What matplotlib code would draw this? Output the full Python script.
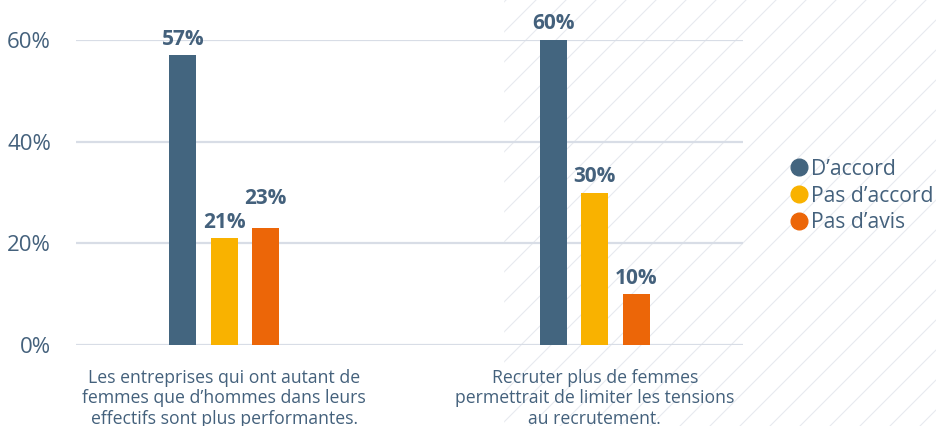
import numpy as np
import matplotlib
matplotlib.use("Agg")
from matplotlib import pyplot as plt
from matplotlib.lines import Line2D

plt.rcParams['font.family'] = ['Open Sans', 'DejaVu Sans']

#chart data
categories = ["Les entreprises qui ont autant de\nfemmes que d\u2019hommes dans leurs\neffectifs sont plus performantes.",
              "Recruter plus de femmes\npermettrait de limiter les tensions\nau recrutement."]
series = ["D\u2019accord", "Pas d\u2019accord", "Pas d\u2019avis"]
d_accord = [57, 60]
pas_d_accord = [21, 30]
pas_d_avis = [23, 10]
yticks = [0, 20, 40, 60]

colors = ['#43657f', '#f9b200', '#ec6608']
text_col = '#44617c'
grid_col = '#d8dde6'

fig = plt.figure(figsize=(9.37, 4.26), dpi=100)

#decorative diagonal hatching in the background (right part)
bg = fig.add_axes([0, 0, 1, 1], zorder=0)
bg.set_xlim(0, 937)
bg.set_ylim(0, 426)
bg.axis('off')
for c in np.arange(-950, 940, 30):
    xs = np.array([0, 937])
    bg.plot(xs, xs + c, color='#e7eaef', lw=0.8, clip_on=True)
bg.fill_between([0, 503], 0, 426, color='white', zorder=2)

ax = fig.add_axes([76/937, 81/426, 667/937, 305/426], zorder=1)
ax.patch.set_alpha(0)

ind = np.arange(len(categories))
width = 0.0726
off = 0.1116
groups = [d_accord, pas_d_accord, pas_d_avis]
for i, vals in enumerate(groups):
    bars = ax.bar(ind + (i - 1) * off, vals, width, color=colors[i], zorder=3)
    for j, (b, v) in enumerate(zip(bars, vals)):
        dy = 4
        #push a label up when it would collide with its left neighbour
        if i > 0 and abs(v - groups[i - 1][j]) < 4:
            dy = 14
        ax.annotate(str(v) + '%', (b.get_x() + b.get_width() / 2, v),
                    xytext=(0, dy), textcoords='offset points',
                    ha='center', va='bottom', fontsize=15, fontweight='bold',
                    color=text_col, annotation_clip=False)

ax.set_xlim(-0.4, 1.4)
ax.set_ylim(0, 60)
ax.set_yticks(yticks)
ax.set_yticklabels([str(t) + '%' for t in yticks], fontsize=16, color=text_col)
ax.set_xticks(ind)
ax.set_xticklabels(categories, fontsize=12.7, color=text_col, linespacing=1.2)
ax.tick_params(axis='both', length=0)
ax.tick_params(axis='y', pad=18)
ax.tick_params(axis='x', pad=17)
for s in ax.spines.values():
    s.set_visible(False)
ax.grid(axis='y', color=grid_col, lw=1.6, zorder=0)
ax.set_axisbelow(True)

handles = [Line2D([], [], marker='o', ls='', markersize=12, color=c) for c in colors]
leg = fig.legend(handles, series, loc='center left', bbox_to_anchor=(790/937, 1 - 196/426),
                 frameon=False, fontsize=15.2, handletextpad=0.1, handlelength=0.9,
                 labelspacing=0.28, borderpad=0, borderaxespad=0)
for t in leg.get_texts():
    t.set_color(text_col)

plt.savefig('out.png', dpi=100)
